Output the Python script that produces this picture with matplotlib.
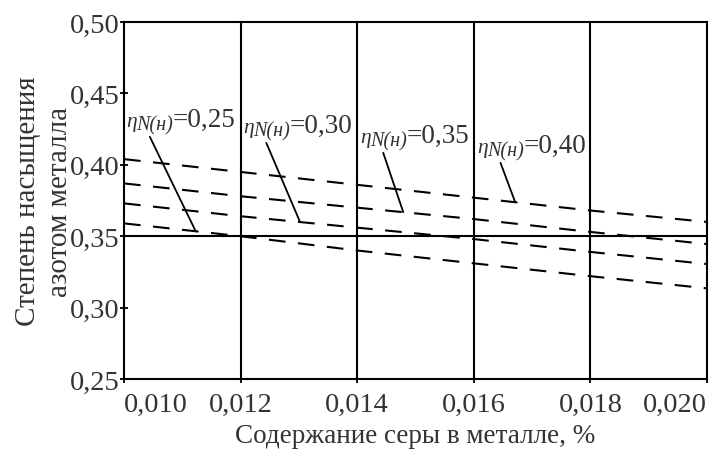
import numpy as np
import matplotlib
matplotlib.use('Agg')
import matplotlib.pyplot as plt
from matplotlib.transforms import offset_copy

plt.rcParams['font.family'] = 'Liberation Serif'

# sulfur content, %
s = [0.010, 0.012, 0.014, 0.016, 0.018, 0.020]
# nitrogen saturation degree, one line per eta value
n40 = [0.404, 0.395, 0.386, 0.377, 0.368, 0.360]
n35 = [0.387, 0.378, 0.370, 0.362, 0.353, 0.3445]
n30 = [0.373, 0.364, 0.356, 0.348, 0.339, 0.3305]
n25 = [0.359, 0.350, 0.340, 0.331, 0.322, 0.3135]

xticks = [0.010, 0.012, 0.014, 0.016, 0.018, 0.020]
xlabels = ['0,010', '0,012', '0,014', '0,016', '0,018', '0,020']
yticks = [0.25, 0.30, 0.35, 0.40, 0.45, 0.50]
ylabels = ['0,25', '0,30', '0,35', '0,40', '0,45', '0,50']
level = 0.35

txt = '#333333'

fig = plt.figure(figsize=(7.11, 4.52), dpi=100)
ax = fig.add_axes([0.1744, 0.1593, 0.8200, 0.7897])

for yy in [n40, n35, n30, n25]:
    ax.plot(s, yy, color='black', lw=1.5, linestyle=(0, (8, 6)))

ax.axhline(level, color='black', lw=1.5)
for xv in xticks[1:-1]:
    ax.axvline(xv, color='black', lw=1.5)

ax.set_xlim(0.010, 0.020)
ax.set_ylim(0.25, 0.50)
ax.set_xticks(xticks)
ax.set_xticklabels(xlabels)
ax.set_yticks(yticks)
ax.set_yticklabels(ylabels)
xl = ax.get_xticklabels()
xl[0].set_ha('left')
xl[-1].set_ha('right')
ax.tick_params(direction='inout', length=6, width=1.3, labelsize=20.5,
               labelcolor=txt)
ax.tick_params(axis='x', pad=6)
ax.tick_params(axis='y', pad=0)
for sp in ax.spines.values():
    sp.set_linewidth(1.5)

ax.set_xlabel('Содержание серы в металле, %', fontsize=19.5, color=txt, labelpad=5)
ax.set_ylabel('Степень насыщения\nазотом металла', fontsize=21, color=txt,
              labelpad=-2, linespacing=1.3)

# labels (eta, subscript N(н), value) with leader lines to the curves
notes = [
    ('=0,25', (0.01004, 0.4272), 0.01123, n25),
    ('=0,30', (0.01204, 0.4230), 0.01302, n30),
    ('=0,35', (0.01405, 0.4160), 0.01479, n35),
    ('=0,40', (0.01606, 0.4090), 0.01671, n40),
]
sub_tr = offset_copy(ax.transData, fig=fig, x=7.2, y=-2.2, units='points')
val_tr = offset_copy(ax.transData, fig=fig, x=33.5, y=0, units='points')
for val, pos, xt, yy in notes:
    ax.text(pos[0], pos[1], 'η', fontsize=15.5, style='italic', color=txt,
            va='baseline', ha='left')
    ax.annotate('N(н)', xy=(xt, np.interp(xt, s, yy)), xytext=pos,
                textcoords=sub_tr, fontsize=14.5, style='italic', color=txt,
                va='baseline', ha='left',
                arrowprops=dict(arrowstyle='-', color='black', lw=1.3,
                                relpos=(0.33, 0.0), shrinkA=0, shrinkB=0))
    ax.text(pos[0], pos[1], val, transform=val_tr, fontsize=19.5, color=txt,
            va='baseline', ha='left')

fig.savefig('out.png', dpi=100)
